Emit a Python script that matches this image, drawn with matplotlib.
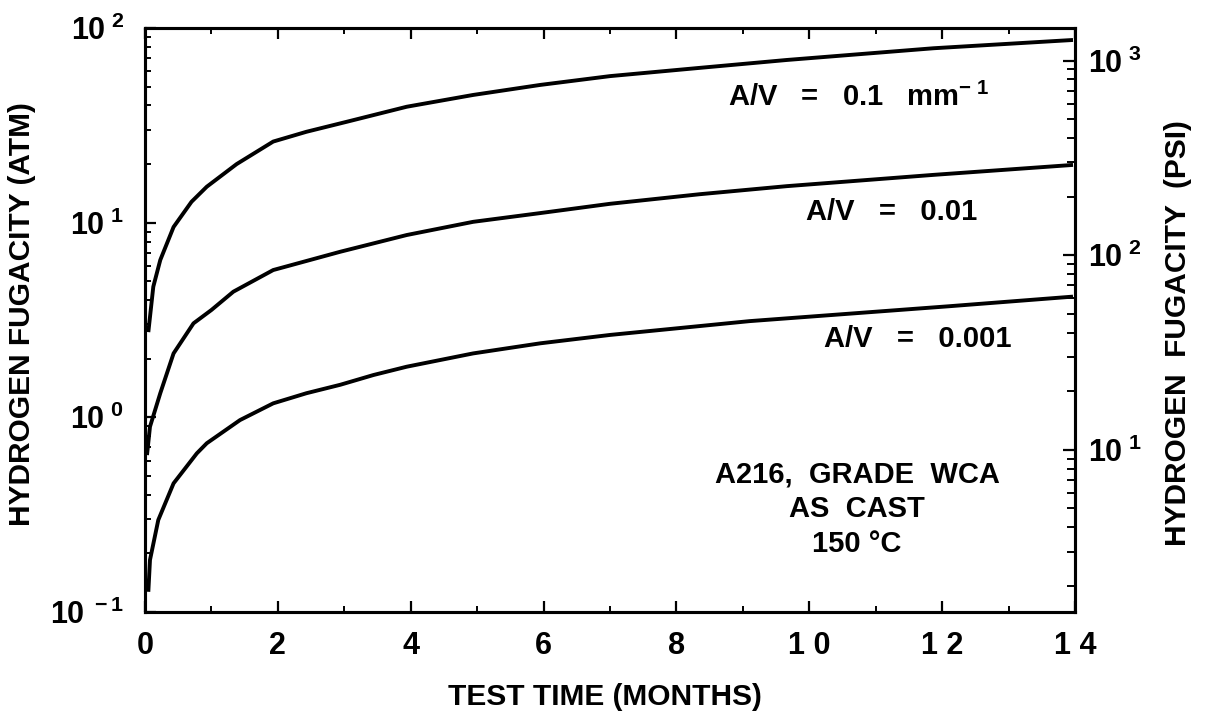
"""Hydrogen fugacity vs test time for A216 grade WCA (as cast, 150 C)."""

import matplotlib

matplotlib.use("Agg")
from matplotlib import pyplot as plt  # noqa: E402
from matplotlib.ticker import FixedLocator, MultipleLocator, LogLocator, NullFormatter  # noqa: E402

plt.rcParams["font.family"] = ["Liberation Sans", "DejaVu Sans"]
plt.rcParams["font.weight"] = "bold"
plt.rcParams["axes.labelweight"] = "bold"
plt.rcParams["mathtext.fontset"] = "custom"
plt.rcParams["mathtext.rm"] = "Liberation Sans:bold"
plt.rcParams["mathtext.it"] = "Liberation Sans:bold"
plt.rcParams["mathtext.bf"] = "Liberation Sans:bold"
plt.rcParams["mathtext.default"] = "rm"

ATM_TO_PSI = 14.696

# months, fugacity in atm
av_01_months = [0.05, 0.125, 0.23, 0.43, 0.70, 0.93, 1.38, 1.93, 2.43, 3.04,
                3.94, 4.94, 5.95, 7.0, 8.35, 9.66, 11.87, 13.97]
av_01_atm = [2.74, 4.69, 6.43, 9.5, 12.8, 15.3, 20.0, 26.1, 29.3, 33.0,
             39.4, 45.3, 51.0, 56.6, 62.4, 68.5, 78.7, 86.8]

av_001_months = [0.03, 0.075, 0.23, 0.43, 0.73, 1.0, 1.33, 1.93, 2.94, 3.94,
                 4.94, 5.95, 7.0, 8.35, 9.66, 11.87, 13.97]
av_001_atm = [0.64, 0.895, 1.33, 2.13, 3.04, 3.56, 4.42, 5.71, 7.09, 8.64,
              10.1, 11.2, 12.5, 14.0, 15.4, 17.6, 19.8]

av_0001_months = [0.05, 0.075, 0.2, 0.43, 0.78, 0.93, 1.43, 1.93, 2.43, 2.94,
                  3.44, 3.94, 4.94, 5.95, 7.0, 9.1, 12.1, 13.97]
av_0001_atm = [0.127, 0.185, 0.297, 0.458, 0.653, 0.736, 0.968, 1.18, 1.33, 1.47,
               1.65, 1.82, 2.13, 2.40, 2.65, 3.12, 3.72, 4.17]

x_ticks = [0, 2, 4, 6, 8, 10, 12, 14]
x_tick_labels = ["0", "2", "4", "6", "8", "1 0", "1 2", "1 4"]
atm_ticks = [0.1, 1, 10, 100]
atm_tick_labels = [r"10$^{\ -1}$", r"10$^{\ 0}$", r"10$^{\ 1}$", r"10$^{\ 2}$"]
psi_ticks = [10, 100, 1000]
psi_tick_labels = [r"10$^{\ 1}$", r"10$^{\ 2}$", r"10$^{\ 3}$"]

W, H = 1213, 717
AX_L, AX_R, AX_T, AX_B = 145, 1075, 28, 612


def px(x, y):
    """Pixel position in the reference -> axes fraction."""
    return (x - AX_L) / (AX_R - AX_L), (AX_B - y) / (AX_B - AX_T)


fig = plt.figure(figsize=(W / 100, H / 100), dpi=100)
ax = fig.add_axes([AX_L / W, 1 - AX_B / H, (AX_R - AX_L) / W, (AX_B - AX_T) / H])

line_kw = dict(color="black", linewidth=2.8, solid_capstyle="butt",
               solid_joinstyle="round")
ax.plot(av_01_months, av_01_atm, **line_kw)
ax.plot(av_001_months, av_001_atm, **line_kw)
ax.plot(av_0001_months, av_0001_atm, **line_kw)

ax.set_yscale("log")
ax.set_xlim(0, 14)
ax.set_ylim(0.1, 100)

ax.xaxis.set_major_locator(FixedLocator(x_ticks))
ax.set_xticklabels(x_tick_labels)
ax.xaxis.set_minor_locator(MultipleLocator(1))
ax.set_yticks(atm_ticks)
ax.set_yticklabels(atm_tick_labels)
ax.yaxis.set_minor_locator(LogLocator(base=10, subs=range(2, 10)))
ax.yaxis.set_minor_formatter(NullFormatter())

ax.tick_params(axis="both", which="major", direction="in", length=8, width=1.6,
               labelsize=22, top=True, right=False)
ax.tick_params(axis="both", which="minor", direction="in", length=4.5, width=1.4,
               top=True, right=False)
ax.tick_params(axis="x", which="major", pad=14)
ax.tick_params(axis="y", which="major", pad=15)

for spine in ax.spines.values():
    spine.set_linewidth(2.2)

ax2 = ax.twinx()
ax2.set_yscale("log")
ax2.set_ylim(0.1 * ATM_TO_PSI, 100 * ATM_TO_PSI)
ax2.set_yticks(psi_ticks)
ax2.set_yticklabels(psi_tick_labels)
ax2.yaxis.set_minor_locator(LogLocator(base=10, subs=range(2, 10)))
ax2.yaxis.set_minor_formatter(NullFormatter())
ax2.tick_params(axis="y", which="major", direction="in", length=9, width=1.6,
                labelsize=22, pad=9)
ax2.tick_params(axis="y", which="minor", direction="in", length=5.5, width=1.4)
for spine in ax2.spines.values():
    spine.set_linewidth(2.2)

ax.set_xlabel("TEST TIME (MONTHS)", fontsize=21.5, va="center")
ax.xaxis.set_label_coords(*px(605, 697))
ax.set_ylabel("HYDROGEN FUGACITY (ATM)", fontsize=21.5, va="center")
ax.yaxis.set_label_coords(*px(22, 314))
ax2.set_ylabel("HYDROGEN  FUGACITY  (PSI)", fontsize=21.5, va="center")
ax2.yaxis.set_label_coords(*px(1178, 333))

ax.text(*px(990, 97), r"A/V   =   0.1   mm$^{-\ 1}$", transform=ax.transAxes,
        fontsize=21, ha="right", va="center")
ax.text(*px(977, 212), "A/V   =   0.01", transform=ax.transAxes, fontsize=21,
        ha="right", va="center")
ax.text(*px(1012, 339), "A/V   =   0.001", transform=ax.transAxes, fontsize=21,
        ha="right", va="center")
ax.text(*px(857, 509), "A216,  GRADE  WCA\nAS  CAST\n150 °C", transform=ax.transAxes,
        fontsize=21, ha="center", va="center", multialignment="center",
        linespacing=1.3)

fig.savefig("out.png", dpi=100)
